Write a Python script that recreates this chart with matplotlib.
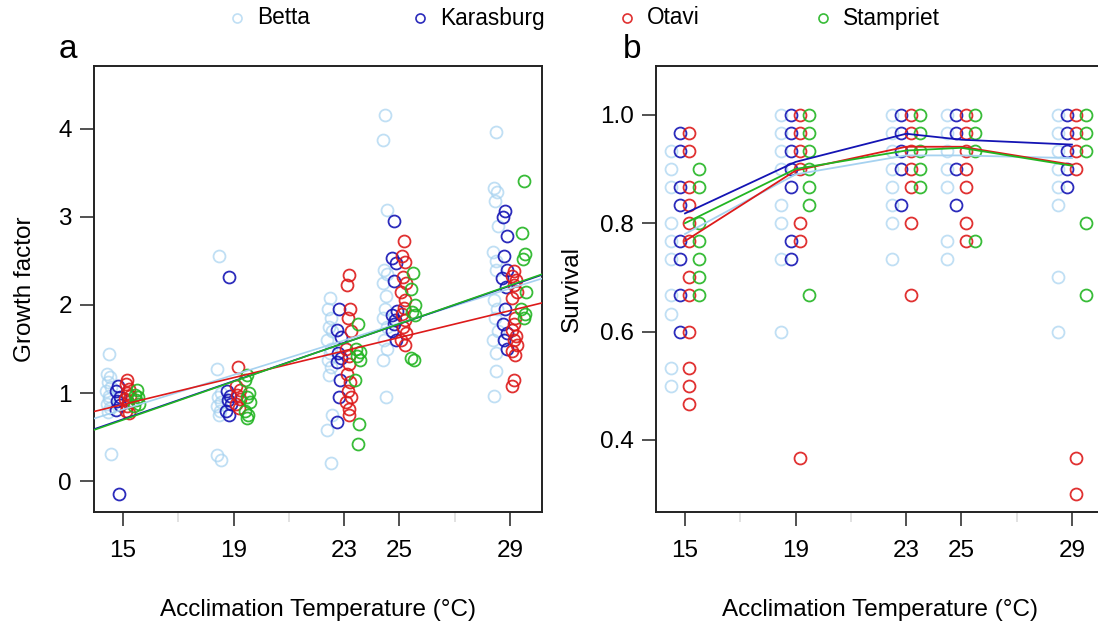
import matplotlib
matplotlib.use("Agg")
import matplotlib.pyplot as plt
from matplotlib.lines import Line2D
import numpy as np

plt.rcParams['font.family'] = ['Liberation Sans', 'DejaVu Sans']

# ---------------- data ----------------
temps = [15, 19, 23, 25, 29]
populations = ["Betta", "Karasburg", "Otavi", "Stampriet"]
pop_colors = ["#a6d2f0", "#1414b4", "#dd1a1a", "#22b522"]

# Growth factor (panel a)
growth_betta = {
    15: [1.44, 1.21, 1.18, 1.12, 1.07, 1.02, 0.97, 0.93, 0.88, 0.83, 0.79, 0.31],
    19: [2.55, 1.27, 1.0, 0.95, 0.9, 0.85, 0.8, 0.75, 0.3, 0.24],
    23: [2.08, 1.95, 1.85, 1.75, 1.7, 1.6, 1.5, 1.45, 1.38, 1.3, 1.2, 0.75, 0.58, 0.21],
    25: [4.15, 3.87, 3.08, 2.4, 2.35, 2.25, 2.1, 1.95, 1.85, 1.75, 1.6, 1.5, 1.38, 0.95],
    29: [3.96, 3.33, 3.28, 3.18, 2.9, 2.6, 2.5, 2.4, 2.05, 1.95, 1.85, 1.7, 1.6, 1.45, 1.25, 0.97],
}
growth_karasburg = {
    15: [1.08, 1.02, 0.96, 0.91, 0.86, 0.81, -0.15],
    19: [2.32, 1.02, 0.97, 0.92, 0.87, 0.8, 0.75],
    23: [1.95, 1.72, 1.63, 1.45, 1.4, 1.35, 1.15, 0.95, 0.67],
    25: [2.95, 2.53, 2.48, 2.27, 1.93, 1.88, 1.83, 1.78, 1.7, 1.6],
    29: [3.06, 3.0, 2.78, 2.55, 2.4, 2.3, 2.2, 1.95, 1.78, 1.68, 1.6, 1.5],
}
growth_otavi = {
    15: [1.15, 1.1, 1.05, 1.0, 0.97, 0.93, 0.9, 0.85, 0.8, 0.77],
    19: [1.29, 1.08, 1.03, 0.98, 0.93, 0.88, 0.83],
    23: [2.34, 2.23, 1.95, 1.85, 1.7, 1.5, 1.42, 1.33, 1.22, 1.12, 1.02, 0.95, 0.9, 0.82, 0.75],
    25: [2.72, 2.56, 2.49, 2.32, 2.25, 2.15, 2.05, 1.97, 1.9, 1.83, 1.75, 1.68, 1.6, 1.55],
    29: [2.38, 2.33, 2.28, 2.22, 2.15, 2.08, 1.85, 1.78, 1.72, 1.65, 1.6, 1.55, 1.48, 1.43, 1.15, 1.08],
}
growth_stampriet = {
    15: [1.03, 0.98, 0.95, 0.92, 0.88, 0.85],
    19: [1.2, 1.15, 1.0, 0.95, 0.9, 0.8, 0.75, 0.72],
    23: [1.78, 1.5, 1.46, 1.42, 1.38, 1.15, 0.65, 0.42],
    25: [2.36, 2.18, 2.0, 1.92, 1.88, 1.4, 1.37],
    29: [3.4, 2.82, 2.58, 2.52, 2.15, 1.95, 1.9, 1.85],
}
growth_data = [growth_betta, growth_karasburg, growth_otavi, growth_stampriet]

# fitted regression lines (value at 15 degC, slope per degC)
fit_at15 = [0.813, 0.703, 0.870, 0.695]
fit_slope = [0.098, 0.108, 0.076, 0.109]

# Survival (panel b)
surv_betta = {
    15: [0.933, 0.9, 0.867, 0.8, 0.767, 0.733, 0.667, 0.633, 0.533, 0.5],
    19: [1.0, 0.967, 0.933, 0.9, 0.833, 0.8, 0.733, 0.6],
    23: [1.0, 0.967, 0.933, 0.9, 0.867, 0.833, 0.8, 0.733],
    25: [1.0, 0.967, 0.933, 0.9, 0.867, 0.767, 0.733],
    29: [1.0, 0.967, 0.933, 0.9, 0.867, 0.833, 0.7, 0.6],
}
surv_karasburg = {
    15: [0.967, 0.933, 0.867, 0.833, 0.767, 0.733, 0.667, 0.6],
    19: [1.0, 0.967, 0.933, 0.9, 0.867, 0.767, 0.733],
    23: [1.0, 0.967, 0.933, 0.9, 0.833],
    25: [1.0, 0.967, 0.9, 0.833],
    29: [1.0, 0.967, 0.933, 0.9, 0.867],
}
surv_otavi = {
    15: [0.967, 0.933, 0.867, 0.833, 0.8, 0.767, 0.7, 0.667, 0.6, 0.533, 0.5, 0.467],
    19: [1.0, 0.967, 0.933, 0.9, 0.8, 0.767, 0.367],
    23: [1.0, 0.967, 0.933, 0.9, 0.867, 0.8, 0.667],
    25: [1.0, 0.967, 0.933, 0.9, 0.867, 0.8, 0.767],
    29: [1.0, 0.967, 0.933, 0.9, 0.367, 0.3],
}
surv_stampriet = {
    15: [0.9, 0.867, 0.8, 0.767, 0.733, 0.7, 0.667],
    19: [1.0, 0.967, 0.933, 0.9, 0.867, 0.833, 0.667],
    23: [1.0, 0.967, 0.933, 0.9, 0.867],
    25: [1.0, 0.967, 0.933, 0.767],
    29: [1.0, 0.967, 0.933, 0.8, 0.667],
}
surv_data = [surv_betta, surv_karasburg, surv_otavi, surv_stampriet]

# mean survival lines
surv_mean_betta = [0.78, 0.89, 0.925, 0.925, 0.92]
surv_mean_karasburg = [0.818, 0.913, 0.965, 0.954, 0.945]
surv_mean_otavi = [0.767, 0.897, 0.941, 0.941, 0.908]
surv_mean_stampriet = [0.80, 0.90, 0.934, 0.939, 0.906]
surv_means = [surv_mean_betta, surv_mean_karasburg, surv_mean_otavi, surv_mean_stampriet]

# ---------------- plot ----------------
W, H = 1098, 626
fig = plt.figure(figsize=(W / 100, H / 100), dpi=100)

def px_axes(x0, y0, x1, y1):
    return fig.add_axes([x0 / W, 1 - y1 / H, (x1 - x0) / W, (y1 - y0) / H])

axa = px_axes(94, 66, 542, 512)
axb = px_axes(656, 66, 1104, 512)

offsets = [-0.52, -0.18, 0.16, 0.5]
jit = [0.0, -0.07, 0.06, -0.03, 0.08, -0.09, 0.03]
alphas = [0.7, 0.9, 0.9, 0.9]
ms = 8.6
mew = 1.3
xlim = (13.95, 30.16)
FS = 17.5

# panel a
for k, (d, c) in enumerate(zip(growth_data, pop_colors)):
    for t in temps:
        vals = d[t]
        xs = [t + offsets[k] + jit[i % len(jit)] for i in range(len(vals))]
        axa.plot(xs, vals, ls='none', marker='o', mfc='none', mec=c, ms=ms,
                 mew=mew, alpha=alphas[k], zorder=2)
xx = np.array(xlim)
for k in [0, 2, 1, 3]:
    axa.plot(xx, fit_at15[k] + fit_slope[k] * (xx - 15), color=pop_colors[k],
             lw=1.2, zorder=3 + k)
axa.set_xlim(*xlim)
axa.set_ylim(-0.35, 4.71)
axa.set_yticks([0, 1, 2, 3, 4])
axa.set_ylabel("Growth factor", fontsize=FS, labelpad=16)

# panel b
for k, (d, c) in enumerate(zip(surv_data, pop_colors)):
    for t in temps:
        vals = d[t]
        xs = [t + offsets[k]] * len(vals)
        axb.plot(xs, vals, ls='none', marker='o', mfc='none', mec=c, ms=ms,
                 mew=mew, alpha=alphas[k], zorder=2)
for k in range(4):
    axb.plot(temps, surv_means[k], color=pop_colors[k], lw=1.3, zorder=3 + k)
axb.set_xlim(*xlim)
axb.set_ylim(0.267, 1.09)
axb.set_yticks([0.4, 0.6, 0.8, 1.0])
axb.set_yticklabels(["0.4", "0.6", "0.8", "1.0"])
axb.set_ylabel("Survival", fontsize=FS, labelpad=12)

for ax in (axa, axb):
    ax.set_xticks(temps)
    ax.set_xticks([17, 21, 27], minor=True)
    ax.tick_params(axis='x', which='major', length=10, width=1.2, labelsize=FS,
                   pad=10, color='#333333')
    ax.tick_params(axis='x', which='minor', length=7, width=1.2, color='#dddddd')
    ax.tick_params(axis='y', which='major', length=10, width=1.2, labelsize=FS,
                   pad=6, color='#333333')
    ax.set_xlabel("Acclimation Temperature (°C)", fontsize=FS, labelpad=27)
    for s in ax.spines.values():
        s.set_linewidth(1.4)
        s.set_color('#222222')

fig.text(68 / W, 1 - 50 / H, "a", fontsize=24, ha='center', va='center')
fig.text(632 / W, 1 - 50 / H, "b", fontsize=24, ha='center', va='center')

leg_marker_x = [237, 420, 627, 823]
for name, mx, c, a in zip(populations, leg_marker_x, pop_colors, alphas):
    fig.lines.append(Line2D([mx / W], [1 - 18 / H], transform=fig.transFigure,
                            ls='none', marker='o', mfc='none', mec=c, ms=6.5,
                            mew=1.2, alpha=a))
    fig.text((mx + 20) / W, 1 - 18 / H, name, fontsize=16.3, ha='left', va='center')

fig.savefig("out.png", dpi=100)
